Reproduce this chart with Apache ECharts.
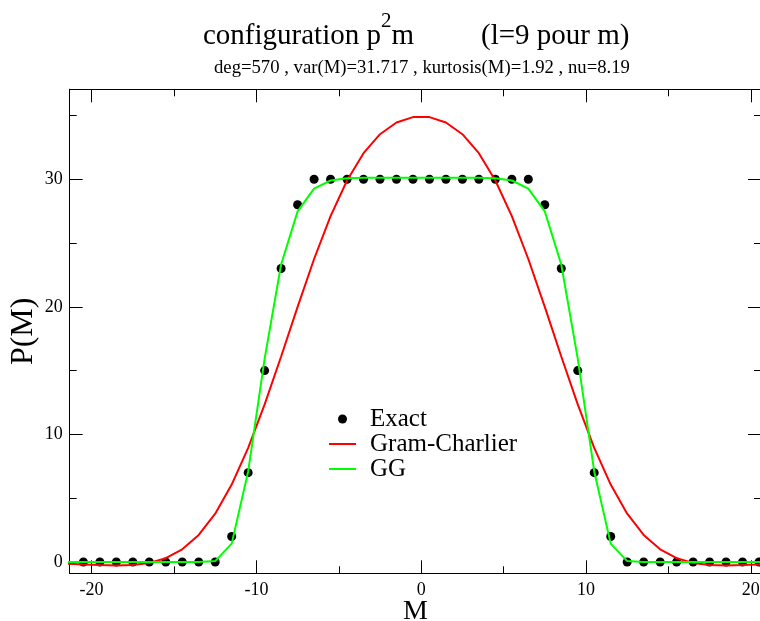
<!DOCTYPE html>
<html>
<head>
<meta charset="utf-8">
<script src="https://cdn.jsdelivr.net/npm/echarts@6/dist/echarts.min.js"></script>
<style>
html,body{margin:0;padding:0;background:#fff;}
#chart{width:760px;height:621px;}
</style>
</head>
<body>
<div id="chart"></div>
<script>
// M values where the curves are drawn (half-integers)
var mCurve = [-21.5,-20.5,-19.5,-18.5,-17.5,-16.5,-15.5,-14.5,-13.5,-12.5,-11.5,-10.5,-9.5,-8.5,-7.5,-6.5,-5.5,-4.5,-3.5,-2.5,-1.5,-0.5,
              0.5,1.5,2.5,3.5,4.5,5.5,6.5,7.5,8.5,9.5,10.5,11.5,12.5,13.5,14.5,15.5,16.5,17.5,18.5,19.5,20.5,21.5];
// M values of the exact points
var mExact = [-20.5,-19.5,-18.5,-17.5,-16.5,-15.5,-14.5,-13.5,-12.5,-11.5,-10.5,-9.5,-8.5,-7.5,-6.5,-5.5,-4.5,-3.5,-2.5,-1.5,-0.5,
              0.5,1.5,2.5,3.5,4.5,5.5,6.5,7.5,8.5,9.5,10.5,11.5,12.5,13.5,14.5,15.5,16.5,17.5,18.5,19.5,20.5];
var exactP = [0,0,0,0,0,0,0,0,0,2,7,15,23,28,30,30,30,30,30,30,30,
              30,30,30,30,30,30,30,28,23,15,7,2,0,0,0,0,0,0,0,0,0];
var gramCharlierP = [-0.13,-0.19,-0.24,-0.27,-0.23,-0.07,0.30,0.99,2.12,3.79,6.07,8.95,12.35,16.11,20.00,23.75,27.11,29.90,32.04,33.53,34.45,34.87,
                     34.87,34.45,33.53,32.04,29.90,27.11,23.75,20.00,16.11,12.35,8.95,6.07,3.79,2.12,0.99,0.30,-0.07,-0.23,-0.27,-0.24,-0.19,-0.13];
var ggP = [0,0,0,0,0,0,0,0,0,0.07,1.44,7.10,15.94,23.32,27.48,29.27,29.90,30.08,30.12,30.12,30.12,30.12,
           30.12,30.12,30.12,30.12,30.08,29.90,29.27,27.48,23.32,15.94,7.10,1.44,0.07,0,0,0,0,0,0,0,0,0];
var xMajor = [-20,-10,0,10,20];
var xMinor = [-15,-5,5,15];
var yMajor = [0,10,20,30];
var yMinor = [5,15,25,35];

function pairs(xs, ys){ return xs.map(function(x,i){ return [x, ys[i]]; }); }

var FONT = "'Liberation Serif','Times New Roman',serif";
var X_MIN = -21.33, X_MAX = 20.62, Y_MIN = -0.886, Y_MAX = 37.05;
var LINE_ICON = 'path://M0,0L27,0L27,2L0,2Z';

function xAx(pos, ticks, len, labels){
  return {
    type:'value', position:pos, min:X_MIN, max:X_MAX,
    axisLine:{show:true, onZero:false, lineStyle:{color:'#000', width:1}},
    axisTick:{show:true, inside:true, length:len, customValues:ticks, lineStyle:{color:'#000', width:1}},
    axisLabel:{show:labels, customValues:ticks, margin:8, color:'#000', fontFamily:FONT, fontSize:18},
    splitLine:{show:false},
    name: (labels ? 'M' : ''), nameLocation:'middle', nameGap:24, nameMoveOverlap:false,
    nameTextStyle:{color:'#000', fontFamily:FONT, fontSize:28}
  };
}
function yAx(pos, ticks, len, labels){
  return {
    type:'value', position:pos, min:Y_MIN, max:Y_MAX,
    axisLine:{show:true, onZero:false, lineStyle:{color:'#000', width:1}},
    axisTick:{show:true, inside:true, length:len, customValues:ticks, lineStyle:{color:'#000', width:1}},
    axisLabel:{show:labels, customValues:ticks, margin:7, color:'#000', fontFamily:FONT, fontSize:18},
    splitLine:{show:false},
    name: (labels ? 'P(M)' : ''), nameLocation:'middle', nameGap:30.5, nameMoveOverlap:false,
    nameTextStyle:{color:'#000', fontFamily:FONT, fontSize:32}
  };
}

var chart = echarts.init(document.getElementById('chart'), null, {renderer:'canvas'});
chart.setOption({
  animation:false,
  backgroundColor:'#fff',
  title:[{
    text:'{a|configuration p}{s|2}{a|m}{g| }{a|(l=9 pour m)}',
    left:198, top:6,
    textStyle:{
      fontWeight:'normal',
      rich:{
        a:{fontFamily:FONT, fontSize:29, fontWeight:'normal', color:'#000', lineHeight:50},
        s:{fontFamily:FONT, fontSize:21, fontWeight:'normal', color:'#000', lineHeight:21, verticalAlign:'top'},
        g:{fontFamily:FONT, fontSize:29, fontWeight:'normal', width:67}
      }
    }
  },{
    text:'deg=570 , var(M)=31.717 , kurtosis(M)=1.92 , nu=8.19',
    left:209, top:54,
    textStyle:{fontFamily:FONT, fontSize:18.7, color:'#000', fontWeight:'normal'}
  }],
  grid:{left:69.7, right:-1, top:89.3, bottom:47.7, containLabel:false, outerBoundsMode:'none'},
  legend:{
    orient:'vertical', left:329, top:406.5, padding:0, itemGap:0,
    itemWidth:27, itemHeight:9, symbolKeepAspect:true,
    textStyle:{fontFamily:FONT, fontSize:25, color:'#000', lineHeight:24.5, padding:[0,0,0,9]},
    data:[{name:'Exact', icon:'circle'},{name:'Gram-Charlier', icon:LINE_ICON},{name:'GG', icon:LINE_ICON}]
  },
  xAxis:[xAx('bottom', xMajor, 13, true), xAx('bottom', xMinor, 7, false), xAx('top', xMajor, 13, false), xAx('top', xMinor, 7, false)],
  yAxis:[yAx('left', yMajor, 13, true), yAx('left', yMinor, 7, false), yAx('right', yMajor, 13, false), yAx('right', yMinor, 7, false)],
  series:[
    {name:'Exact', type:'scatter', data:pairs(mExact, exactP), symbol:'circle', symbolSize:9,
     itemStyle:{color:'#000', opacity:1}, xAxisIndex:0, yAxisIndex:0},
    {name:'Gram-Charlier', type:'line', data:pairs(mCurve, gramCharlierP), symbol:'none', showSymbol:false,
     lineStyle:{color:'#ff0000', width:2}, itemStyle:{color:'#ff0000'}, xAxisIndex:0, yAxisIndex:0, clip:true},
    {name:'GG', type:'line', data:pairs(mCurve, ggP), symbol:'none', showSymbol:false,
     lineStyle:{color:'#00ff00', width:2}, itemStyle:{color:'#00ff00'}, xAxisIndex:0, yAxisIndex:0, clip:true}
  ]
});
</script>
</body>
</html>
